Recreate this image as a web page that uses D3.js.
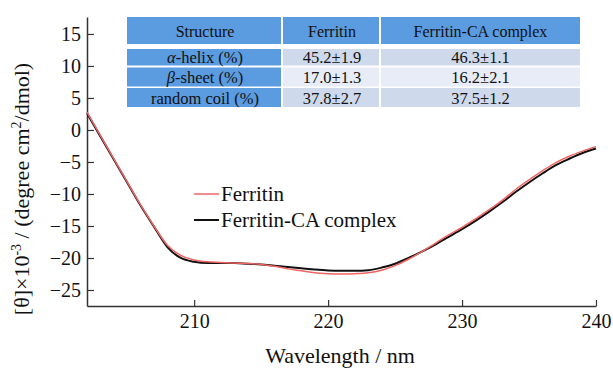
<!DOCTYPE html>
<html lang="en">
<head>
  <meta charset="utf-8">
  <title>CD spectra</title>
  <style>
    body {
      margin: 0;
      background: #fff;
    }

    svg text {
      font-family: "Liberation Serif", "Times New Roman", Times, serif;
      fill: #111;
    }
  </style>
</head>
<body>
  <svg id="chart" width="613" height="369"></svg>
  <script src="https://cdnjs.cloudflare.com/ajax/libs/d3/7.8.5/d3.min.js"></script>
  <script>
    //
    // Data
    //

    var wavelength = [202, 203, 204, 205, 206, 207, 208, 209, 210, 211, 212, 213, 214, 215, 216, 217, 218, 219, 220, 221,
      222, 223, 224, 225, 226, 227, 228, 229, 230, 231, 232, 233, 234, 235, 236, 237, 238, 239, 240]
    var ferritin = [2.8, -0.9, -4.5, -8.1, -11.7, -15.0, -18.0, -19.6, -20.3, -20.6, -20.7, -20.8, -20.85, -21.0, -21.3, -21.7,
      -22.0, -22.3, -22.45, -22.5, -22.45, -22.3, -21.9, -21.2, -20.2, -19.0, -17.7, -16.4, -15.2, -13.9, -12.5, -11.0,
      -9.3, -7.8, -6.4, -5.1, -4.1, -3.3, -2.6]
    var complex = [2.6, -1.0, -4.6, -8.2, -11.8, -15.1, -18.3, -20.0, -20.6, -20.8, -20.8, -20.8, -20.9, -21.0, -21.2, -21.4,
      -21.6, -21.8, -21.95, -22.0, -22.0, -21.9, -21.5, -20.9, -20.0, -19.0, -17.9, -16.7, -15.5, -14.2, -12.8, -11.3,
      -9.7, -8.2, -6.8, -5.5, -4.5, -3.6, -2.9]

    var xTicks = [210, 220, 230, 240]
    var yTicks = [15, 10, 5, 0, -5, -10, -15, -20, -25]

    var seriesNames = ['Ferritin', 'Ferritin-CA complex']
    var tableHeader = ['Structure', 'Ferritin', 'Ferritin-CA complex']
    var tableRows = [
      ['α-helix (%)', '45.2±1.9', '46.3±1.1'],
      ['β-sheet (%)', '17.0±1.3', '16.2±2.1'],
      ['random coil (%)', '37.8±2.7', '37.5±1.2']
    ]

    //
    // Layout
    //

    var svg = d3.select('#chart')
    var plotLeft = 87, plotRight = 596, plotTop = 17, plotBottom = 306
    var colorRed = '#f06464'
    var colorBlack = '#111111'

    var x = d3.scaleLinear().domain([202, 240]).range([plotLeft, plotRight])
    var y = d3.scaleLinear().domain([-27.5, 17.65]).range([plotBottom, plotTop])

    //
    // Axes
    //

    var xAxis = svg.append('g')
      .attr('transform', 'translate(0,' + plotBottom + ')')
      .call(d3.axisBottom(x).tickValues(xTicks).tickSizeInner(-6).tickSizeOuter(0).tickPadding(8))
    var yAxis = svg.append('g')
      .attr('transform', 'translate(' + plotLeft + ',0)')
      .call(d3.axisLeft(y).tickValues(yTicks).tickSizeInner(-7).tickSizeOuter(0).tickPadding(6))

    ;[xAxis, yAxis].forEach(function(a) {
      a.select('.domain').attr('stroke', '#333').attr('stroke-width', 1.5)
      a.selectAll('.tick line').attr('stroke', '#333').attr('stroke-width', 1.2)
      a.selectAll('.tick text')
        .style('font-family', '"Liberation Serif", "Times New Roman", serif')
        .style('font-size', '20px')
        .attr('fill', '#111')
    })

    svg.append('text')
      .attr('x', 340)
      .attr('y', 363)
      .attr('text-anchor', 'middle')
      .style('font-size', '22px')
      .text('Wavelength / nm')

    var yLabel = svg.append('text')
      .attr('transform', 'translate(29,189) rotate(-90)')
      .attr('text-anchor', 'middle')
      .style('font-size', '22px')
    yLabel.append('tspan').text('[θ]×10')
    yLabel.append('tspan').attr('dy', -8).style('font-size', '14px').text('-3')
    yLabel.append('tspan').attr('dy', 8).text(' / (degree cm')
    yLabel.append('tspan').attr('dy', -8).style('font-size', '14px').text('2')
    yLabel.append('tspan').attr('dy', 8).text('/dmol)')

    //
    // Curves
    //

    var line = d3.line()
      .x(function(d, i) { return x(wavelength[i]) })
      .y(function(d) { return y(d) })
      .curve(d3.curveMonotoneX)

    svg.append('path')
      .attr('d', line(complex))
      .attr('fill', 'none')
      .attr('stroke', colorBlack)
      .attr('stroke-width', 2)

    svg.append('path')
      .attr('d', line(ferritin))
      .attr('fill', 'none')
      .attr('stroke', colorRed)
      .attr('stroke-width', 1.5)

    //
    // Legend
    //

    var legend = svg.append('g').attr('transform', 'translate(194,194)')
    seriesNames.forEach(function(name, i) {
      var g = legend.append('g').attr('transform', 'translate(0,' + (i * 26) + ')')
      g.append('line')
        .attr('x1', 0).attr('x2', 25)
        .attr('stroke', i === 0 ? colorRed : colorBlack)
        .attr('stroke-width', i === 0 ? 1.5 : 2)
      g.append('text')
        .attr('x', 27)
        .attr('y', 7)
        .style('font-size', '21px')
        .text(name)
    })

    //
    // Table
    //

    var colX = [127, 283, 381, 580]
    var headerY = 17, headerH = 27
    var rowY = [49, 67.5, 88], rowH = [16.5, 19, 19]
    var colorHead = '#5b9be0'
    var colorBody = ['#cfd9ec', '#e7ecf6', '#cfd9ec']

    var table = svg.append('g')

    tableHeader.forEach(function(t, c) {
      table.append('rect')
        .attr('x', colX[c])
        .attr('y', headerY)
        .attr('width', colX[c + 1] - colX[c] - (c < 2 ? 2 : 0))
        .attr('height', headerH)
        .attr('fill', colorHead)
      table.append('text')
        .attr('x', (colX[c] + colX[c + 1]) / 2)
        .attr('y', headerY + 19.5)
        .attr('text-anchor', 'middle')
        .style('font-size', '16px')
        .text(t)
    })

    tableRows.forEach(function(row, r) {
      row.forEach(function(t, c) {
        table.append('rect')
          .attr('x', colX[c])
          .attr('y', rowY[r])
          .attr('width', colX[c + 1] - colX[c] - (c < 2 ? 2 : 0))
          .attr('height', rowH[r])
          .attr('fill', c === 0 ? colorHead : colorBody[r])
        var txt = table.append('text')
          .attr('x', (colX[c] + colX[c + 1]) / 2)
          .attr('y', rowY[r] + rowH[r] / 2 + 6)
          .attr('text-anchor', 'middle')
          .style('font-size', '16.5px')
        if (c === 0 && r < 2) {
          txt.append('tspan').style('font-style', 'italic').text(t.charAt(0))
          txt.append('tspan').text(t.slice(1))
        } else {
          txt.text(t)
        }
      })
    })
  </script>
</body>
</html>
